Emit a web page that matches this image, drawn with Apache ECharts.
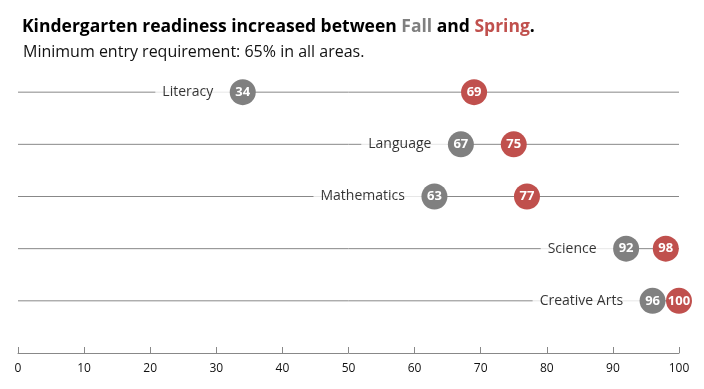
<!DOCTYPE html>
<html><head><meta charset="utf-8">
<script src="https://cdn.jsdelivr.net/npm/echarts@6/dist/echarts.min.js"></script>
<style>html,body{margin:0;padding:0;background:#fff}#c{width:704px;height:389px}</style>
</head><body><div id="c"></div>
<script>
const categories = ['Literacy', 'Language', 'Mathematics', 'Science', 'Creative Arts'];
const fallValues = [34, 67, 63, 92, 96];
const springValues = [69, 75, 77, 98, 100];
const xTicks = [0, 10, 20, 30, 40, 50, 60, 70, 80, 90, 100];

const FONT = 'Open Sans, Noto Sans, sans-serif';
const GRAY = '#808080';
const RED = '#c0504d';
const rowPos = categories.map((c, i) => i + 1);

const lineSeries = rowPos.map(p => ({
  type: 'line', silent: true, symbol: 'none', z: 1,
  lineStyle: { color: '#888', width: 1 },
  data: [[xTicks[0], p], [xTicks[xTicks.length - 1], p]]
}));

const chart = echarts.init(document.getElementById('c'));
chart.setOption({
  animation: false,
  title: [{
    left: 17, top: 13,
    text: '{b|Kindergarten readiness increased between }{f|Fall}{b| and }{s|Spring}{b|.}',
    textStyle: {
      rich: {
        b: { fontFamily: FONT, fontWeight: 'bold', fontSize: 17.5, color: '#000' },
        f: { fontFamily: FONT, fontWeight: 'bold', fontSize: 17.5, color: GRAY },
        s: { fontFamily: FONT, fontWeight: 'bold', fontSize: 17.5, color: RED }
      }
    }
  }, {
    left: 18, top: 39,
    text: 'Minimum entry requirement: 65% in all areas.',
    textStyle: { fontFamily: FONT, fontWeight: 'normal', fontSize: 16, color: '#111' }
  }],
  grid: { left: 18, right: 25, top: 40, bottom: 36 },
  xAxis: {
    type: 'value', min: 0, max: 100, interval: 10, position: 'bottom',
    axisLine: { show: true, onZero: false, lineStyle: { color: '#888', width: 1 } },
    axisTick: { show: true, inside: true, length: 6, lineStyle: { color: '#888' } },
    splitLine: { show: false },
    axisLabel: {
      fontFamily: FONT, fontSize: 12, color: '#111', margin: 10,
      formatter: v => xTicks.includes(v) ? String(v) : ''
    }
  },
  yAxis: {
    type: 'value', min: 0, max: 6, inverse: true, show: false
  },
  series: lineSeries.concat([
    {
      name: 'labels', type: 'scatter', symbolSize: 1,
      itemStyle: { color: 'rgba(0,0,0,0)' },
      data: fallValues.map((v, i) => [v, rowPos[i], categories[i]]),
      label: {
        show: true, position: 'left', distance: 4,
        formatter: p => p.data[2],
        fontFamily: FONT, fontSize: 14, color: '#000',
        textBorderWidth: 0,
        backgroundColor: '#fff', padding: [3, 25, 3, 7]
      },
      z: 5
    },
    {
      name: 'Fall', type: 'scatter', symbolSize: 26,
      itemStyle: { color: GRAY, opacity: 1 },
      data: fallValues.map((v, i) => [v, rowPos[i]]),
      label: {
        show: true, position: 'inside', formatter: p => p.data[0],
        fontFamily: FONT, fontWeight: 'bold', fontSize: 13, color: '#fff',
        textBorderWidth: 0
      },
      z: 6
    },
    {
      name: 'Spring', type: 'scatter', symbolSize: 26,
      itemStyle: { color: RED, opacity: 1 },
      data: springValues.map((v, i) => [v, rowPos[i]]),
      label: {
        show: true, position: 'inside', formatter: p => p.data[0],
        fontFamily: FONT, fontWeight: 'bold', fontSize: 13, color: '#fff',
        textBorderWidth: 0
      },
      z: 7
    }
  ])
});
</script></body></html>
